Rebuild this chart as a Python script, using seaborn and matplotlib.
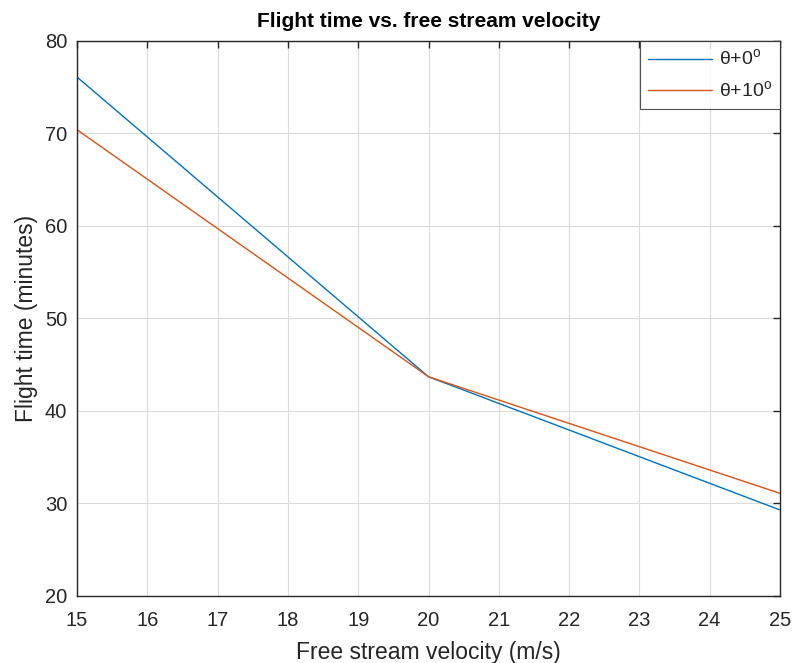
import matplotlib
matplotlib.use("Agg")
import matplotlib.pyplot as plt
import seaborn as sns
import pandas as pd

velocity = [15, 20, 25]
time_theta0 = [76.1, 43.7, 29.3]
time_theta10 = [70.4, 43.7, 31.1]
labels = [r'θ+0$^{\mathrm{o}}$', r'θ+10$^{\mathrm{o}}$']
x_ticks = list(range(15, 26))
y_ticks = list(range(20, 81, 10))

sns.set_style("white")
plt.rcParams['font.family'] = ['Liberation Sans', 'DejaVu Sans']
plt.rcParams['mathtext.fontset'] = 'custom'
plt.rcParams['mathtext.rm'] = 'Liberation Sans'

df = pd.DataFrame({
    'v': velocity * 2,
    't': time_theta0 + time_theta10,
    's': [labels[0]] * 3 + [labels[1]] * 3,
})

fig = plt.figure(figsize=(7.95, 6.63), dpi=100)
ax = fig.add_axes([0.0969, 0.1011, 0.8842, 0.8371])
sns.lineplot(data=df, x='v', y='t', hue='s', palette=['#0072BD', '#D95319'],
             linewidth=1.0, ax=ax, legend=True)

ax.set_xlim(15, 25)
ax.set_ylim(20, 80)
ax.set_xticks(x_ticks)
ax.set_yticks(y_ticks)
ax.grid(True, color='#dcdcdc', linewidth=0.8)
ax.tick_params(direction='in', top=True, right=True, length=5, width=1.0,
               labelsize=14.5, colors='#262626')
ax.tick_params(axis='x', pad=11)
ax.tick_params(axis='y', pad=7)
for sp in ax.spines.values():
    sp.set_color('#262626')
    sp.set_linewidth(1.0)
ax.set_xlabel('Free stream velocity (m/s)', fontsize=16.5, color='#262626', labelpad=8)
ax.set_ylabel('Flight time (minutes)', fontsize=16.5, color='#262626', labelpad=5)
ax.set_title('Flight time vs. free stream velocity', fontsize=15,
             fontweight='bold', color='black', pad=10)

leg = ax.legend(loc='upper right', fontsize=14, frameon=True, fancybox=False,
                edgecolor='#262626', borderaxespad=0.0, handlelength=3.3,
                borderpad=0.4, labelspacing=0.55, handletextpad=0.35)
leg.get_frame().set_linewidth(0.8)

fig.savefig('out.png', dpi=100)
